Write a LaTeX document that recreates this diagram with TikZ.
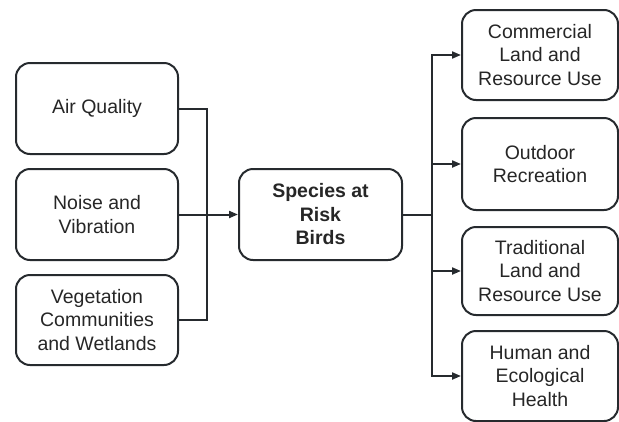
\documentclass[tikz,border=0pt]{standalone}
\usepackage{fontspec}
\setmainfont{Liberation Sans}
\usetikzlibrary{arrows.meta}
\definecolor{linegray}{HTML}{262A2E}
\begin{document}
\begin{tikzpicture}[x=1pt,y=-1pt,
    box/.style={draw=linegray, line width=2pt, rounded corners=14pt,
        minimum height=91pt, inner sep=0pt, align=center, text=black!85,
        font=\fontsize{19.5}{23.5}\selectfont},
    inbox/.style={box, minimum width=162pt},
    outbox/.style={box, minimum width=156pt},
    link/.style={draw=linegray, line width=2pt},
    arrow/.style={link, -{Triangle[length=9pt,width=7pt]}}]
    \useasboundingbox (0,0) rectangle (619,421);

    % Factores de entrada
    \node[inbox] (air) at (97,108.5) {Air Quality};
    \node[inbox] (noise) at (97,214.5) {Noise and\\Vibration};
    \node[inbox, minimum height=90pt] (veg) at (97,320) {Vegetation\\Communities\\and Wetlands};

    % Caja central
    \node[box, minimum width=163pt, font=\fontsize{19.5}{23.5}\selectfont\bfseries] (birds) at (320.5,214.5) {Species at\\Risk\\Birds};

    % Resultados
    \node[outbox, minimum height=90pt] (comm) at (540,55) {Commercial\\Land and\\Resource Use};
    \node[outbox, minimum height=92pt] (rec) at (540,164) {Outdoor\\Recreation};
    \node[outbox, minimum height=88pt] (trad) at (540,271) {Traditional\\Land and\\Resource Use};
    \node[outbox, minimum height=90pt] (health) at (540,376) {Human and\\Ecological\\Health};

    % Uniones
    \coordinate (jin) at (207,214.5);
    \coordinate (jout) at (432,214.5);
    \draw[link] (air.east) -| (jin);
    \draw[link] (veg.east) -| (jin);
    \draw[arrow] (noise.east) -- (birds.west);
    \draw[link] (birds.east) -- (jout);
    \foreach \o in {comm,rec,trad,health}
        \draw[arrow] (jout) |- (\o.west);
\end{tikzpicture}
\end{document}
